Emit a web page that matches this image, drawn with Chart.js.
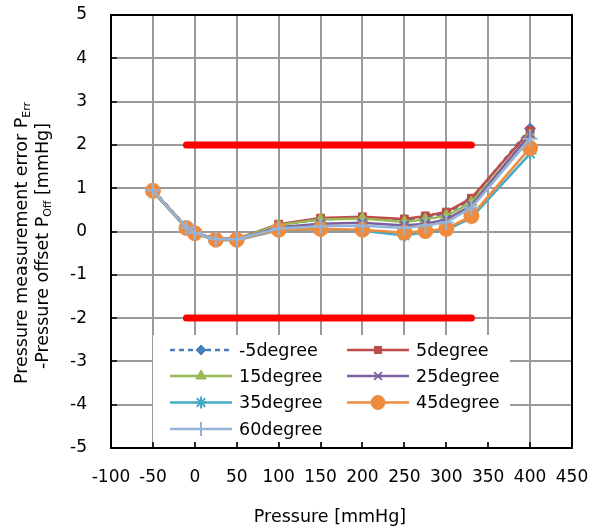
<!DOCTYPE html>
<html><head><meta charset="utf-8">
<script src="https://cdn.jsdelivr.net/npm/chart.js@4.4.1/dist/chart.umd.min.js"></script>
<style>html,body{margin:0;padding:0;background:#fff;} canvas{display:block;}</style>
</head><body>
<canvas id="c" width="592" height="531"></canvas>
<script>
// ---------------- DATA ----------------
const pressures = [-50, -10, 0, 25, 50, 100, 150, 200, 250, 275, 300, 330, 400];
const seriesNames = ['-5degree', '5degree', '15degree', '25degree', '35degree', '45degree', '60degree'];
const errMinus5 = [0.97, 0.10, -0.02, -0.17, -0.17, 0.15, 0.28, 0.31, 0.27, 0.33, 0.42, 0.74, 2.38];
const err5      = [0.95, 0.10, -0.02, -0.17, -0.17, 0.17, 0.31, 0.34, 0.29, 0.36, 0.45, 0.77, 2.33];
const err15     = [0.92, 0.08, -0.03, -0.18, -0.18, 0.15, 0.28, 0.30, 0.22, 0.28, 0.36, 0.67, 2.22];
const err25     = [0.93, 0.08, -0.03, -0.19, -0.19, 0.10, 0.18, 0.20, 0.14, 0.18, 0.28, 0.60, 2.25];
const err35     = [0.93, 0.07, -0.05, -0.20, -0.20, 0.03, 0.05, 0.02, -0.09, -0.02, 0.03, 0.32, 1.80];
const err45     = [0.94, 0.08, -0.04, -0.19, -0.19, 0.04, 0.06, 0.04, -0.03, 0.01, 0.06, 0.36, 1.93];
const err60     = [0.95, 0.09, -0.03, -0.18, -0.18, 0.07, 0.12, 0.13, 0.08, 0.14, 0.21, 0.55, 2.14];
const limitX = [-10, 330];
const upperLimit = [2, 2];
const lowerLimit = [-2, -2];
const xTicks = [-100, -50, 0, 50, 100, 150, 200, 250, 300, 350, 400, 450];
const yTicks = [-5, -4, -3, -2, -1, 0, 1, 2, 3, 4, 5];
const xTitle = 'Pressure [mmHg]';
const yTitle1 = [['Pressure measurement error P', false], ['Err', true]];
const yTitle2 = [['-Pressure offset P', false], ['Off', true], [' [mmHg]', false]];

// ---------------- STYLE ----------------
const FONT = '"DejaVu Sans", Verdana, sans-serif';
const seriesValues = [errMinus5, err5, err15, err25, err35, err45, err60];
const styles = [
  {color: '#4A7EBB', point: 'rectRot', r: 5.5, dash: [5, 4], bw: 1},
  {color: '#BE4B48', point: 'rect', r: 5.5, dash: [], bw: 1},
  {color: '#98B954', point: 'triangle', r: 6.5, dash: [], bw: 1},
  {color: '#7D60A0', point: 'crossRot', r: 6, dash: [], bw: 2},
  {color: '#46AAC5', point: 'star', r: 6.5, dash: [], bw: 2},
  {color: '#EE8B3F', point: 'circle', r: 7.5, dash: [], bw: 1},
  {color: '#95B3D7', point: 'cross', r: 7.5, dash: [], bw: 2}
];

const datasets = seriesNames.map((name, i) => ({
  label: name,
  data: pressures.map((p, k) => ({x: p, y: seriesValues[i][k]})),
  showLine: true,
  fill: false,
  borderColor: styles[i].color,
  backgroundColor: styles[i].color,
  borderWidth: 2.5,
  borderDash: styles[i].dash,
  pointStyle: styles[i].point,
  pointRadius: styles[i].r,
  pointBackgroundColor: styles[i].color,
  pointBorderColor: styles[i].color,
  pointBorderWidth: styles[i].bw,
  order: 10 - i
}));
[upperLimit, lowerLimit].forEach((lim, j) => {
  datasets.push({
    label: 'limit' + j,
    data: limitX.map((x, k) => ({x: x, y: lim[k]})),
    showLine: true, fill: false,
    borderColor: '#FF0000', borderWidth: 7, borderCapStyle: 'round',
    pointRadius: 0, order: 20
  });
});

function drawMarker(ctx, st, x, y, r) {
  ctx.save();
  ctx.fillStyle = st.color; ctx.strokeStyle = st.color; ctx.lineWidth = st.bw;
  ctx.setLineDash([]);
  Chart.helpers.drawPoint(ctx, {pointStyle: st.point, radius: r, rotation: 0, borderWidth: st.bw}, x, y);
  ctx.restore();
}

function drawRichText(ctx, parts, size, subSize) {
  let total = 0;
  const widths = parts.map(([t, sub]) => {
    ctx.font = (sub ? subSize : size) + 'px ' + FONT;
    const w = ctx.measureText(t).width; total += w; return w;
  });
  let x = -total / 2;
  parts.forEach(([t, sub], i) => {
    ctx.font = (sub ? subSize : size) + 'px ' + FONT;
    ctx.fillText(t, x, sub ? 5 : 0);
    x += widths[i];
  });
}

const decor = {
  id: 'decor',
  afterDatasetsDraw(chart) {
    const ctx = chart.ctx;
    ctx.save();
    // legend box
    ctx.fillStyle = '#fff';
    ctx.fillRect(153, 335, 357, 107);
    const cols = [{l1: 170, l2: 232, m: 201, t: 239}, {l1: 347, l2: 409, m: 378, t: 416}];
    const rows = [350, 376, 402.5, 429];
    seriesNames.forEach((name, i) => {
      const c = cols[i % 2], y = rows[Math.floor(i / 2)], st = styles[i];
      ctx.strokeStyle = st.color; ctx.lineWidth = 2.5; ctx.setLineDash(st.dash);
      ctx.beginPath(); ctx.moveTo(c.l1, y); ctx.lineTo(c.l2, y); ctx.stroke();
      ctx.setLineDash([]);
      drawMarker(ctx, st, c.m, y, st.r - 0.5);
      ctx.fillStyle = '#000'; ctx.font = '17.5px ' + FONT;
      ctx.textAlign = 'left'; ctx.textBaseline = 'middle';
      ctx.fillText(name, c.t, y + 1);
    });
    ctx.restore();
  },
  afterDraw(chart) {
    const ctx = chart.ctx, a = chart.chartArea, sx = chart.scales.x, sy = chart.scales.y;
    ctx.save();
    ctx.strokeStyle = '#000'; ctx.lineWidth = 2;
    ctx.beginPath();
    ctx.moveTo(a.left, a.top); ctx.lineTo(a.right, a.top); ctx.lineTo(a.right, a.bottom);
    ctx.stroke();
    ctx.lineWidth = 1.5;
    xTicks.forEach(v => {
      const px = Math.round(sx.getPixelForValue(v));
      ctx.beginPath(); ctx.moveTo(px, a.bottom); ctx.lineTo(px, a.bottom - 6); ctx.stroke();
    });
    yTicks.forEach(v => {
      const py = Math.round(sy.getPixelForValue(v));
      ctx.beginPath(); ctx.moveTo(a.left, py); ctx.lineTo(a.left + 6, py); ctx.stroke();
    });
    // titles
    ctx.fillStyle = '#000'; ctx.textBaseline = 'middle'; ctx.textAlign = 'left';
    ctx.save(); ctx.translate(330, 517);
    drawRichText(ctx, [[xTitle, false]], 17.5, 12);
    ctx.restore();
    ctx.save(); ctx.translate(22, 243); ctx.rotate(-Math.PI / 2);
    drawRichText(ctx, yTitle1, 17.5, 11);
    ctx.restore();
    ctx.save(); ctx.translate(43, 246); ctx.rotate(-Math.PI / 2);
    drawRichText(ctx, yTitle2, 17.5, 11);
    ctx.restore();
    ctx.restore();
  }
};

new Chart(document.getElementById('c'), {
  type: 'scatter',
  data: {datasets: datasets},
  plugins: [decor],
  options: {
    responsive: false, animation: false, devicePixelRatio: 1,
    layout: {padding: {top: 15, right: 20, left: 0, bottom: 0}},
    plugins: {legend: {display: false}, tooltip: {enabled: false}, title: {display: false}},
    scales: {
      x: {
        type: 'linear', min: -100, max: 450,
        afterBuildTicks: s => { s.ticks = xTicks.map(v => ({value: v})); },
        ticks: {font: {family: FONT, size: 17}, color: '#000', padding: 19, maxRotation: 0, autoSkip: false},
        grid: {color: '#9a9a9a', lineWidth: 2, drawTicks: false},
        border: {color: '#000', width: 2},
        afterFit: s => { s.height = 83; s.paddingLeft = 0; s.paddingRight = 0; }
      },
      y: {
        type: 'linear', min: -5, max: 5,
        afterBuildTicks: s => { s.ticks = yTicks.map(v => ({value: v})); },
        ticks: {font: {family: FONT, size: 17}, color: '#000', padding: 24, autoSkip: false},
        grid: {color: '#9a9a9a', lineWidth: 2, drawTicks: false},
        border: {color: '#000', width: 2},
        afterFit: s => { s.width = 111; s.paddingTop = 0; s.paddingBottom = 0; }
      }
    }
  }
});
</script>
</body></html>
